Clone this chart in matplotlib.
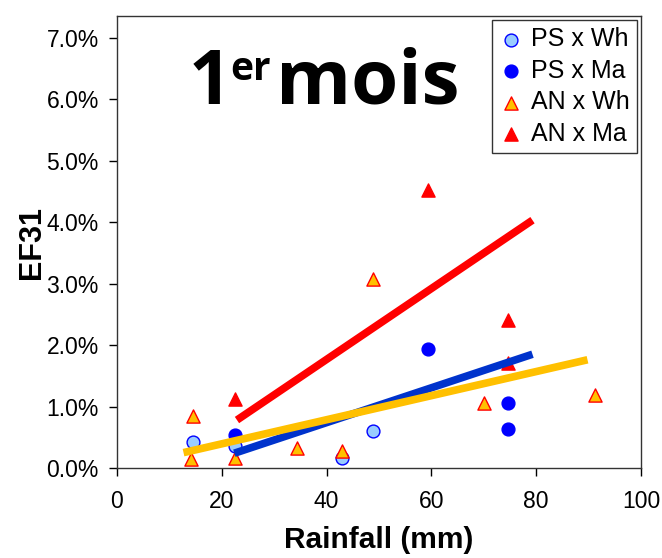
import matplotlib.pyplot as plt
from matplotlib.ticker import FuncFormatter

plt.rcParams['font.family'] = ['Liberation Sans', 'DejaVu Sans']

# data (rainfall mm, EF31 %)
ps_wh_x = [14.6, 22.5, 42.9, 48.9]
ps_wh_y = [0.43, 0.35, 0.16, 0.60]
ps_ma_x = [22.5, 59.3, 74.6, 74.6]
ps_ma_y = [0.54, 1.93, 1.05, 0.63]
an_wh_x = [14.6, 14.1, 22.5, 34.4, 42.9, 48.9, 70.1, 91.2]
an_wh_y = [0.84, 0.14, 0.17, 0.32, 0.27, 3.08, 1.05, 1.18]
an_ma_x = [22.5, 59.3, 74.6, 74.6]
an_ma_y = [1.12, 4.52, 2.41, 1.71]

# trend lines (end points)
trend_ma_an_x = [22.9, 79.3]
trend_ma_an_y = [0.78, 4.03]
trend_ma_ps_x = [22.4, 79.3]
trend_ma_ps_y = [0.24, 1.85]
trend_wh_x = [12.7, 89.8]
trend_wh_y = [0.25, 1.76]

fig = plt.figure(figsize=(6.62, 5.58), dpi=100)
ax = fig.add_axes([0.1767, 0.1613, 0.7915, 0.81])

ax.scatter(ps_wh_x, ps_wh_y, s=85, marker='o', facecolor='#99CCFF', edgecolor='#0000FF', linewidth=1, label='PS x Wh', zorder=3)
ax.scatter(ps_ma_x, ps_ma_y, s=85, marker='o', facecolor='#0000FF', edgecolor='#0000FF', linewidth=1, label='PS x Ma', zorder=3)
ax.scatter(an_wh_x, an_wh_y, s=90, marker='^', facecolor='#FFC000', edgecolor='#FF0000', linewidth=1, label='AN x Wh', zorder=3)
ax.scatter(an_ma_x, an_ma_y, s=90, marker='^', facecolor='#FF0000', edgecolor='#FF0000', linewidth=1, label='AN x Ma', zorder=3)

ax.plot(trend_ma_an_x, trend_ma_an_y, color='#FF0000', lw=5.5, solid_capstyle='butt', zorder=4)
ax.plot(trend_ma_ps_x, trend_ma_ps_y, color='#0033CC', lw=5.5, solid_capstyle='butt', zorder=4)
ax.plot(trend_wh_x, trend_wh_y, color='#FFC000', lw=5.5, solid_capstyle='butt', zorder=5)

ax.set_xlim(0, 100)
ax.set_ylim(0, 7.35)
ax.set_xticks(range(0, 101, 20))
ax.set_yticks([0, 1, 2, 3, 4, 5, 6, 7])
ax.yaxis.set_major_formatter(FuncFormatter(lambda v, p: '%.1f%%' % v))
ax.tick_params(direction='out', length=6, width=1, labelsize=16.5)
ax.tick_params(axis='x', pad=10)
ax.tick_params(axis='y', pad=7)
for sp in ax.spines.values():
    sp.set_linewidth(1)
    sp.set_color('#333333')

ax.set_xlabel('Rainfall (mm)', fontsize=21.5, fontweight='bold', labelpad=9)
ax.set_ylabel('EF31', fontsize=22, fontweight='bold', labelpad=0)

# title "1er mois" built from pieces so the superscript sits right
title_font = ['Open Sans', 'DejaVu Sans']
fig.text(189 / 662, 1 - 104 / 558, '1', family=title_font, fontsize=54,
         fontweight='bold', ha='left', va='baseline')
fig.text(230 / 662, 1 - 80 / 558, 'er', family=title_font, fontsize=28,
         fontweight='bold', ha='left', va='baseline')
fig.text(276 / 662, 1 - 104 / 558, 'mois', family=title_font, fontsize=55,
         fontweight='bold', ha='left', va='baseline')

leg = ax.legend(loc='upper right', fontsize=18, frameon=True, fancybox=False,
                borderaxespad=0.15, handletextpad=0.35, handlelength=0.9,
                labelspacing=0.3, borderpad=0.3, scatterpoints=1)
leg.get_frame().set_edgecolor('black')
leg.get_frame().set_linewidth(1)

plt.savefig('out.png', dpi=100)
